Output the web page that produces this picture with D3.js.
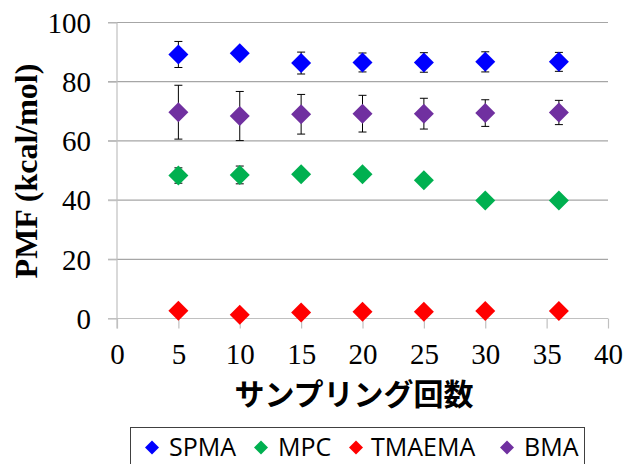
<!DOCTYPE html>
<html>
<head>
<meta charset="utf-8">
<script src="https://cdn.jsdelivr.net/npm/d3@7"></script>
<style>
  html, body { margin: 0; padding: 0; background: #fff; }
  svg { display: block; }
</style>
</head>
<body>
<div id="chart"></div>
<script>
// sampling counts (x)
const samples = [5, 10, 15, 20, 25, 30, 36];

// PMF values
const spma   = [89.2, 89.6, 86.3, 86.5, 86.5, 86.7, 86.7];
const spmaErr = [4.4, 1.5, 3.7, 3.2, 3.3, 3.4, 3.2];
const mpc    = [48.3, 48.5, 48.7, 48.7, 46.7, 39.9, 39.9];
const mpcErr = [2.6, 3.0, 1.2, 1.0, 0.8, 0.5, 0.5];
const tmaema = [2.6, 1.3, 2.0, 2.3, 2.3, 2.5, 2.5];
const tmaemaErr = [0.5, 0.5, 0.5, 0.5, 0.5, 0.5, 0.5];
const bma    = [69.7, 68.4, 69.0, 69.2, 69.2, 69.4, 69.6];
const bmaErr = [9.1, 8.3, 6.7, 6.2, 5.2, 4.5, 4.1];

const xTicks = [0, 5, 10, 15, 20, 25, 30, 35, 40];
const yTicks = [0, 20, 40, 60, 80, 100];

const seriesNames = ['SPMA', 'MPC', 'TMAEMA', 'BMA'];
const seriesColors = ['#0000ff', '#00b050', '#ff0000', '#7030a0'];
const seriesValues = [spma, mpc, tmaema, bma];
const seriesErrors = [spmaErr, mpcErr, tmaemaErr, bmaErr];

const width = 626, height = 464;
const plot = { left: 117, right: 608, top: 22.5, bottom: 318.5 };

const svg = d3.select('#chart').append('svg')
  .attr('width', width)
  .attr('height', height);

const x = d3.scaleLinear().domain([0, 40]).range([plot.left, plot.right]);
const y = d3.scaleLinear().domain([0, 100]).range([plot.bottom, plot.top]);

// gridlines
svg.append('g')
  .selectAll('line')
  .data(yTicks.filter(t => t > 0))
  .join('line')
  .attr('x1', plot.left - 9).attr('x2', plot.right)
  .attr('y1', d => y(d)).attr('y2', d => y(d))
  .attr('stroke', '#a6a6a6')
  .attr('stroke-width', 1.2);

// y axis
const yAxis = svg.append('g')
  .attr('transform', `translate(${plot.left},0)`)
  .call(d3.axisLeft(y).tickValues(yTicks).tickSize(9).tickPadding(17));
yAxis.select('.domain').attr('stroke', '#c0c0c0').attr('stroke-width', 1.2)
  .attr('d', `M0,${plot.top}V${plot.bottom + 10}`);
yAxis.selectAll('.tick line').attr('stroke', '#c0c0c0').attr('stroke-width', 1.2);
yAxis.selectAll('.tick text')
  .attr('font-family', '"Liberation Serif", "Times New Roman", serif')
  .attr('font-size', 29)
  .attr('fill', '#000')
  .attr('dy', '0.34em');

// x axis
const xAxis = svg.append('g')
  .attr('transform', `translate(0,${plot.bottom})`)
  .call(d3.axisBottom(x).tickValues(xTicks).tickSize(10).tickPadding(15));
xAxis.select('.domain').attr('stroke', '#c0c0c0').attr('stroke-width', 1.2)
  .attr('d', `M${plot.left - 9},0H${plot.right}`);
xAxis.selectAll('.tick line').attr('stroke', '#c0c0c0').attr('stroke-width', 1.2);
xAxis.selectAll('.tick text')
  .attr('font-family', '"Liberation Serif", "Times New Roman", serif')
  .attr('font-size', 29)
  .attr('fill', '#000')
  .attr('dy', '0.69em');

// axis titles
svg.append('text')
  .attr('transform', `translate(37,171) rotate(-90)`)
  .attr('text-anchor', 'middle')
  .attr('font-family', '"Liberation Serif", "Times New Roman", serif')
  .attr('font-weight', 'bold')
  .attr('font-size', 32)
  .text('PMF (kcal/mol)');

svg.append('text')
  .attr('x', 354)
  .attr('y', 405)
  .attr('text-anchor', 'middle')
  .attr('font-family', '"Noto Sans CJK JP", sans-serif')
  .attr('font-weight', 'bold')
  .attr('font-size', 30)
  .text('サンプリング回数');

// error bars then markers
const points = [];
seriesValues.forEach((vals, si) => {
  vals.forEach((v, i) => points.push({ s: si, x: samples[i], v, e: seriesErrors[si][i] }));
});

const err = svg.append('g').attr('stroke', '#000').attr('stroke-width', 1);
points.forEach(p => {
  const cx = x(p.x), y0 = y(p.v - p.e), y1 = y(p.v + p.e);
  err.append('line').attr('x1', cx).attr('x2', cx).attr('y1', y0).attr('y2', y1);
  err.append('line').attr('x1', cx - 4).attr('x2', cx + 4).attr('y1', y0).attr('y2', y0);
  err.append('line').attr('x1', cx - 4).attr('x2', cx + 4).attr('y1', y1).attr('y2', y1);
});

const diamond = d3.symbol(d3.symbolSquare, 200);
svg.append('g')
  .selectAll('path')
  .data(points)
  .join('path')
  .attr('d', diamond)
  .attr('transform', d => `translate(${x(d.x)},${y(d.v)}) rotate(45)`)
  .attr('fill', d => seriesColors[d.s]);

// legend
svg.append('rect')
  .attr('x', 130.5).attr('y', 427.5)
  .attr('width', 454).attr('height', 50)
  .attr('fill', '#fff')
  .attr('stroke', '#404040')
  .attr('stroke-width', 1);

const legendMarkerX = [152, 261, 356, 507];
const legendTextX = [169, 278, 371, 524];
const legendSymbol = d3.symbol(d3.symbolSquare, 98);
const lg = svg.append('g');
seriesNames.forEach((name, i) => {
  lg.append('path')
    .attr('d', legendSymbol)
    .attr('transform', `translate(${legendMarkerX[i]},447.5) rotate(45)`)
    .attr('fill', seriesColors[i]);
  lg.append('text')
    .attr('x', legendTextX[i])
    .attr('y', 455.5)
    .attr('font-family', '"Open Sans", "Noto Sans", sans-serif')
    .attr('font-size', 25)
    .attr('fill', '#000')
    .text(name);
});
</script>
</body>
</html>
